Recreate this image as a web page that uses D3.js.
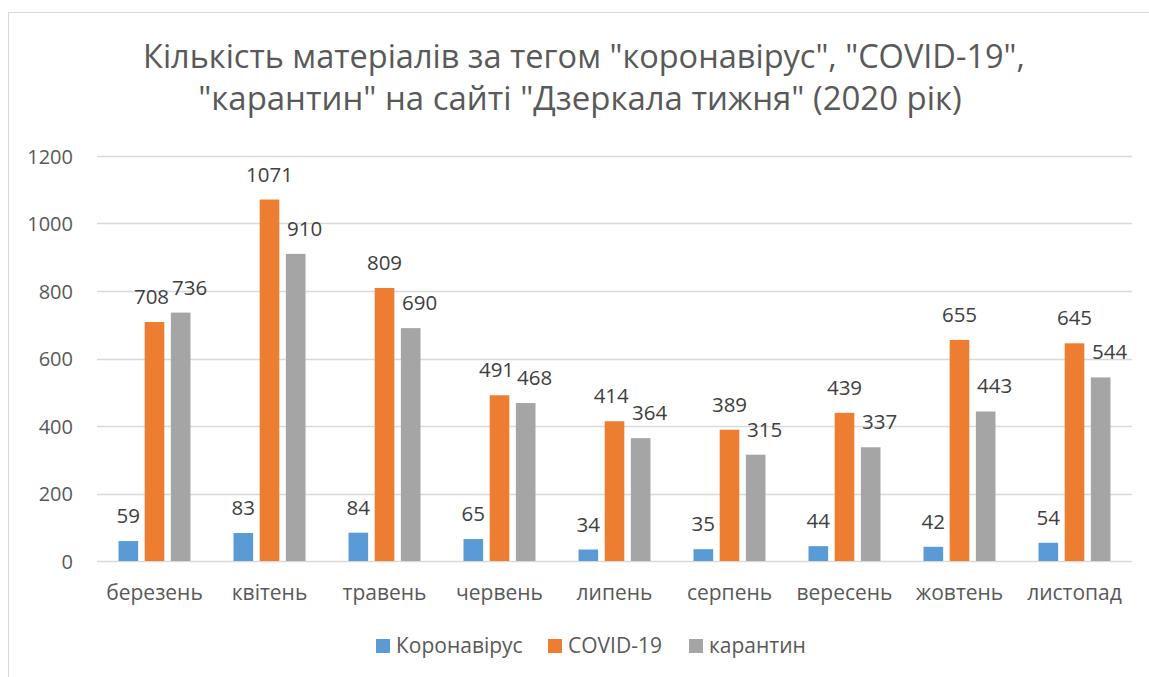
<!DOCTYPE html>
<html>
<head>
<meta charset="utf-8">
<script src="https://cdn.jsdelivr.net/npm/d3@7"></script>
<style>
  body { margin: 0; background: #fff; }
  text { font-family: "Open Sans", sans-serif; }
</style>
</head>
<body>
<div id="graph"></div>
<script>
const months = ["березень", "квітень", "травень", "червень", "липень", "серпень", "вересень", "жовтень", "листопад"];
const seriesNames = ["Коронавірус", "COVID-19", "карантин"];
const koronavirus = [59, 83, 84, 65, 34, 35, 44, 42, 54];
const covid = [708, 1071, 809, 491, 414, 389, 439, 655, 645];
const karantyn = [736, 910, 690, 468, 364, 315, 337, 443, 544];
const colors = ["#5B9BD5", "#ED7D31", "#A5A5A5"];
const yTicks = [0, 200, 400, 600, 800, 1000, 1200];
const titleLines = ["Кількість матеріалів за тегом \"коронавірус\", \"COVID-19\",",
                    "\"карантин\" на сайті \"Дзеркала тижня\" (2020 рік)"];

const W = 1149, H = 677;
const margin = {top: 156, right: 17, bottom: 116, left: 97},
    width = W - margin.left - margin.right,
    height = H - margin.top - margin.bottom;

const values = [koronavirus, covid, karantyn];
const data = months.map((m, i) => ({month: m, vals: values.map(v => v[i])}));

const svg = d3.select("#graph").append("svg")
    .attr("width", W)
    .attr("height", H);

// chart border (cropped on the right and bottom like the original)
svg.append("rect")
    .attr("x", 8.5).attr("y", 12.5)
    .attr("width", 1300).attr("height", 800)
    .attr("fill", "none")
    .attr("stroke", "#D9D9D9");

// title, fitted to the width of the original
const titleWidths = [882, 764];
const title = svg.append("g");
titleLines.forEach((line, i) => {
    const t = title.append("text")
        .attr("x", (i === 0 ? 143 + 882 / 2 : 198 + 764 / 2))
        .attr("y", i === 0 ? 68 : 110)
        .attr("text-anchor", "middle")
        .attr("fill", "#595959")
        .style("font-size", "30px")
        .text(line);
    const w = t.node().getComputedTextLength();
    t.style("font-size", (30 * titleWidths[i] / w) + "px");
});

const g = svg.append("g")
    .attr("transform", "translate(" + margin.left + "," + margin.top + ")");

const x0 = d3.scaleBand()
    .domain(months)
    .range([0, width])
    .paddingInner(0.374)
    .paddingOuter(0.187);
const x1 = d3.scaleBand()
    .domain(d3.range(3))
    .range([0, x0.bandwidth()])
    .paddingInner(0.25);
const y = d3.scaleLinear()
    .domain([0, 1200])
    .range([height, 0]);

// gridlines
g.append("g")
    .selectAll("line")
    .data(yTicks)
    .enter().append("line")
    .attr("x1", 0).attr("x2", width)
    .attr("y1", d => Math.round(y(d)) + 0.5)
    .attr("y2", d => Math.round(y(d)) + 0.5)
    .attr("stroke", "#D9D9D9")
    .attr("stroke-width", 1.3);

// y axis
const yAxis = g.append("g")
    .attr("transform", "translate(-24,0)")
    .call(d3.axisLeft(y).tickValues(yTicks).tickFormat(d3.format("d")).tickSize(0).tickPadding(0));
yAxis.select(".domain").remove();
yAxis.selectAll("text")
    .attr("fill", "#595959")
    .attr("dy", "0.36em")
    .style("font-size", "20px")
    .style("font-family", "'Open Sans', sans-serif");

// x axis
const xAxis = g.append("g")
    .attr("transform", "translate(0," + height + ")")
    .call(d3.axisBottom(x0).tickSize(0).tickPadding(0));
xAxis.select(".domain").remove();
xAxis.selectAll("text")
    .attr("fill", "#595959")
    .attr("y", 39)
    .attr("dy", 0)
    .style("font-size", "21px")
    .style("font-family", "'Open Sans', sans-serif");

// bars
const groups = g.selectAll(".grp")
    .data(data)
    .enter().append("g")
    .attr("class", "grp")
    .attr("transform", d => "translate(" + x0(d.month) + ",0)");

groups.selectAll("rect")
    .data(d => d.vals)
    .enter().append("rect")
    .attr("x", (d, i) => x1(i))
    .attr("width", x1.bandwidth())
    .attr("y", d => y(d))
    .attr("height", d => height - y(d))
    .attr("fill", (d, i) => colors[i]);

// data labels; the third series sits a little to the right, as in Excel
const labelShift = [0, 0, 9];
groups.selectAll(".lbl")
    .data(d => d.vals)
    .enter().append("text")
    .attr("class", "lbl")
    .attr("x", (d, i) => x1(i) + x1.bandwidth() / 2 + labelShift[i])
    .attr("y", d => y(d) - 18)
    .attr("text-anchor", "middle")
    .attr("fill", "#404040")
    .style("font-size", "20.5px")
    .text(d => d);

// push a label left when it collides with its right neighbour
groups.each(function() {
    const lbls = d3.select(this).selectAll(".lbl").nodes();
    for (let i = lbls.length - 2; i >= 0; i--) {
        const a = lbls[i].getBBox(), b = lbls[i + 1].getBBox();
        const overlapX = a.x + a.width + 3 - b.x;
        const overlapY = Math.min(a.y + a.height, b.y + b.height) - Math.max(a.y, b.y);
        if (overlapX > 0 && overlapY > 4) {
            const sel = d3.select(lbls[i]);
            sel.attr("x", +sel.attr("x") - overlapX);
        }
    }
});

// legend
const legendX = [376, 548, 689];
const legend = svg.append("g");
seriesNames.forEach((name, i) => {
    legend.append("rect")
        .attr("x", legendX[i]).attr("y", 639)
        .attr("width", 14).attr("height", 14)
        .attr("fill", colors[i]);
    legend.append("text")
        .attr("x", legendX[i] + 20).attr("y", 653)
        .attr("fill", "#595959")
        .style("font-size", "21px")
        .text(name);
});
</script>
</body>
</html>
